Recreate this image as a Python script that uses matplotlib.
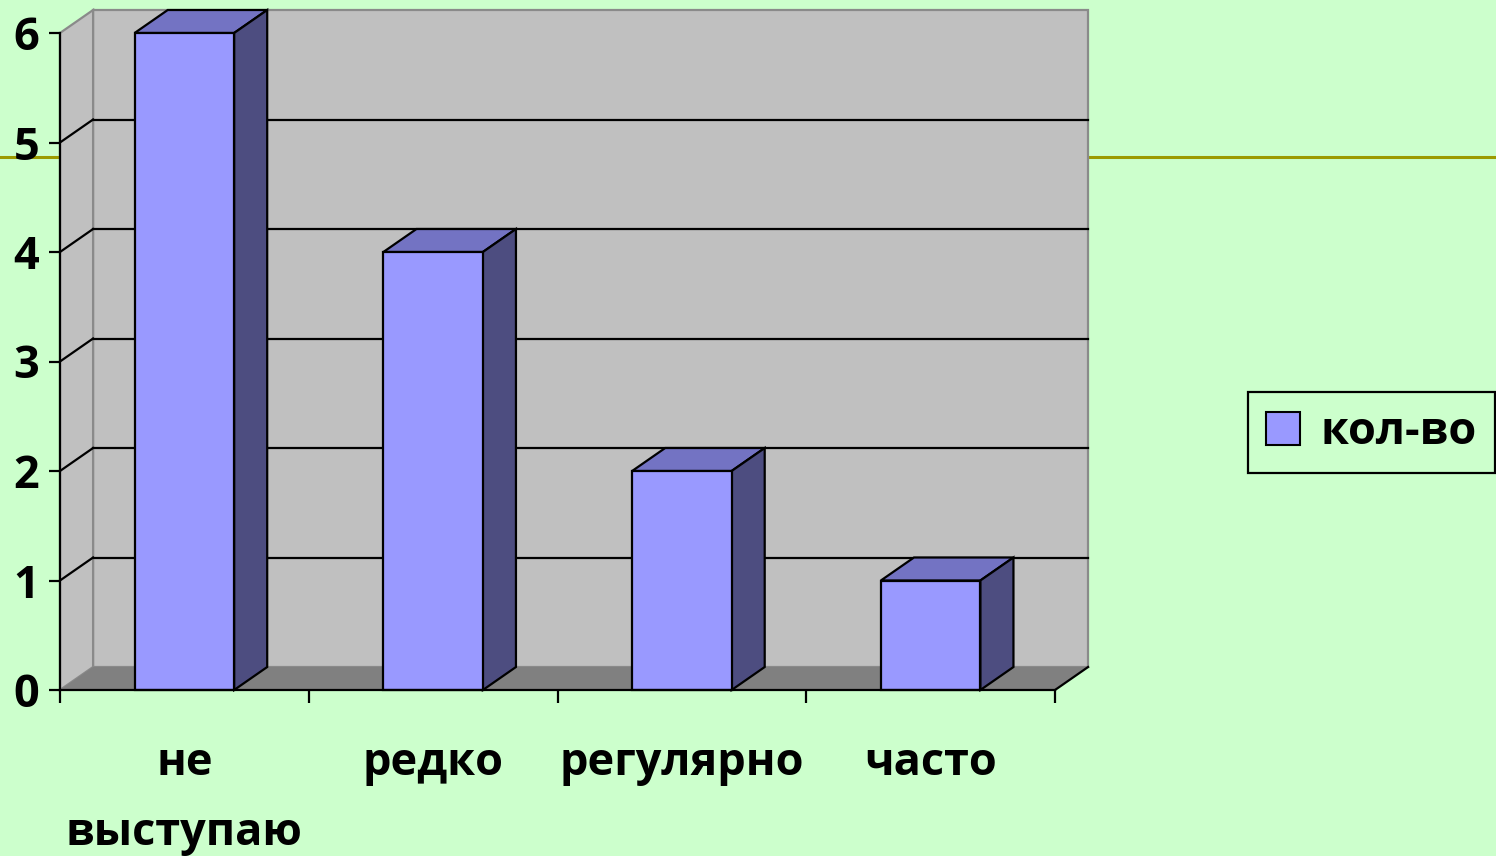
import matplotlib
matplotlib.use("Agg")
import matplotlib.pyplot as plt
from matplotlib.patches import Polygon, Patch
from matplotlib.lines import Line2D

# Data
categories = ["не\nвыступаю", "редко", "регулярно", "часто"]
values = [6, 4, 2, 1]
series_name = "кол-во"
y_ticks = [0, 1, 2, 3, 4, 5, 6]

# Styling
BG = "#CCFFCC"
WALL = "#C0C0C0"
FLOOR = "#808080"
FRONT = "#9999FF"
TOP = "#7373C3"
SIDE = "#4D4D80"
FONT = ["Open Sans", "DejaVu Sans"]
FS = 32.5
BAR_W = 0.4
DX, DY = 0.133, 0.21   # oblique depth of the 3-D frame (category / value units)

plt.rcParams["font.family"] = FONT
plt.rcParams["font.weight"] = "bold"

W, H = 1496, 856
fig = plt.figure(figsize=(W / 100, H / 100), dpi=100, facecolor=BG)

# decorative rule running across the slide, behind the chart walls
fig.add_artist(Line2D([0, 1], [1 - 157 / H, 1 - 157 / H], transform=fig.transFigure,
                      color="#9C9A00", lw=2.2, zorder=-5))

ax = fig.add_axes([60 / W, (H - 690) / H, 995 / W, 657 / H])
ax.set_facecolor("none")
n = len(categories)
x0, x1 = -0.5, n - 0.5
ymax = max(y_ticks)
ax.set_xlim(x0, x1)
ax.set_ylim(0, ymax)

# walls and floor
back = Polygon([(x0 + DX, DY), (x1 + DX, DY), (x1 + DX, ymax + DY), (x0 + DX, ymax + DY)],
               closed=True, facecolor=WALL, edgecolor="#8A8A8A", lw=1.6, zorder=1, clip_on=False)
side = Polygon([(x0, 0), (x0 + DX, DY), (x0 + DX, ymax + DY), (x0, ymax)],
               closed=True, facecolor=WALL, edgecolor="#8A8A8A", lw=1.6, zorder=1, clip_on=False)
floor = Polygon([(x0, 0), (x1, 0), (x1 + DX, DY), (x0 + DX, DY)],
                closed=True, facecolor=FLOOR, edgecolor="none", zorder=1.5, clip_on=False)
for p in (back, side, floor):
    ax.add_patch(p)
ax.plot([x1, x1 + DX], [0, DY], color="black", lw=1.6, zorder=2, clip_on=False)

# gridlines on back and side walls
for k in y_ticks[1:-1]:
    ax.plot([x0 + DX, x1 + DX], [k + DY, k + DY], color="black", lw=1.6, zorder=2, clip_on=False)
    ax.plot([x0, x0 + DX], [k, k + DY], color="black", lw=1.6, zorder=2, clip_on=False)

# bars: front face, top face, side face
xs = list(range(n))
ax.bar(xs, values, width=BAR_W, color=FRONT, edgecolor="black", lw=1.6, zorder=4, clip_on=False)
for xi, v in zip(xs, values):
    l, r = xi - BAR_W / 2, xi + BAR_W / 2
    ax.add_patch(Polygon([(l, v), (r, v), (r + DX, v + DY), (l + DX, v + DY)], closed=True,
                         facecolor=TOP, edgecolor="black", lw=1.6, zorder=3.5, clip_on=False))
    ax.add_patch(Polygon([(r, 0), (r + DX, DY), (r + DX, v + DY), (r, v)], closed=True,
                         facecolor=SIDE, edgecolor="black", lw=1.6, zorder=3.5, clip_on=False))

# axes
for s in ("top", "right"):
    ax.spines[s].set_visible(False)
for s in ("left", "bottom"):
    ax.spines[s].set_color("black")
    ax.spines[s].set_linewidth(1.6)
    ax.spines[s].set_zorder(5)

ax.set_yticks(y_ticks)
ax.set_yticklabels([str(t) for t in y_ticks], fontsize=FS, fontweight="bold")
ax.tick_params(axis="y", length=8, width=1.6, pad=7, direction="out")

ax.set_xticks([i - 0.5 for i in range(n + 1)])
ax.set_xticklabels([])
ax.tick_params(axis="x", which="major", length=9, width=1.6, direction="out")
ax.set_xticks(xs, minor=True)
ax.set_xticklabels(categories, minor=True, fontsize=FS, fontweight="bold", linespacing=1.73)
ax.tick_params(axis="x", which="minor", length=0, pad=37)

# legend
fig.legend(handles=[Patch(facecolor=FRONT, edgecolor="black", lw=1.5)], labels=[series_name],
           loc="upper left", bbox_to_anchor=(1248 / W, 1 - 392 / H), bbox_transform=fig.transFigure,
           borderaxespad=0, prop={"weight": "bold", "size": FS},
           frameon=True, fancybox=False, edgecolor="black", facecolor=BG, framealpha=1,
           handlelength=0.75, handleheight=0.75, handletextpad=0.45, borderpad=0.4)
fig.legends[0].get_frame().set_linewidth(1.6)

fig.savefig("out.png", dpi=100, facecolor=BG)
